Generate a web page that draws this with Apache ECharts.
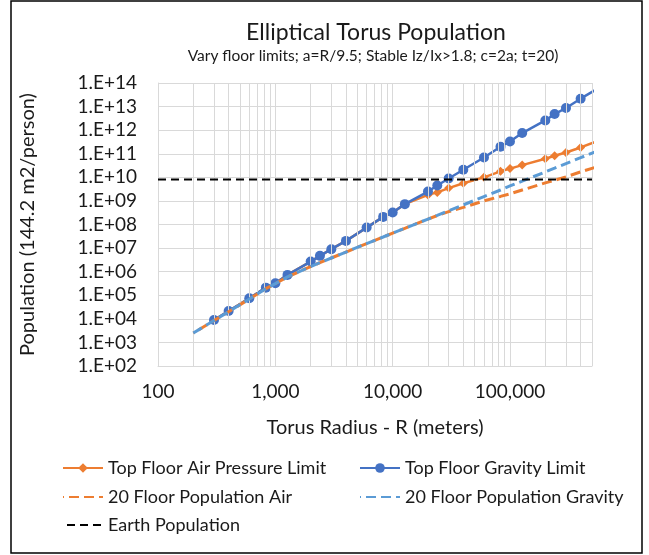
<!DOCTYPE html>
<html>
<head>
<meta charset="utf-8">
<script src="https://cdn.jsdelivr.net/npm/echarts@6/dist/echarts.min.js"></script>
<style>
  html, body { margin: 0; padding: 0; background: #ffffff; }
  #chart { width: 649px; height: 555px; }
</style>
</head>
<body>
<div id="chart"></div>
<script>
// Torus radius R (m) for the top-floor limit series
const radiusTop = [300, 400, 600, 830, 1000, 1270, 2000, 2400, 3000, 4000, 6000, 8300, 10000, 12700,
  20000, 24000, 30000, 40000, 60000, 83000, 100000, 127000, 200000, 240000, 300000, 400000, 600000];
// Population when the top floor is set by the air pressure limit
const topFloorAir = [8.9e3, 2.16e4, 7.5e4, 2.1e5, 3.2e5, 7.3e5, 2.68e6, 4.68e6, 9.0e6, 2.02e7, 7.4e7, 2.1e8, 3.2e8, 7.3e8,
  1.8e9, 2.3e9, 3.5e9, 5.6e9, 1.0e10, 1.8e10, 2.35e10, 3.3e10, 6.1e10, 8.2e10, 1.13e11, 1.85e11, 4.0e11];
// Population when the top floor is set by the gravity limit
const topFloorGravity = [8.9e3, 2.16e4, 7.5e4, 2.1e5, 3.2e5, 7.3e5, 2.68e6, 4.68e6, 9.0e6, 2.02e7, 7.4e7, 2.1e8, 3.2e8, 7.3e8,
  2.5e9, 4.5e9, 8.9e9, 2.09e10, 6.95e10, 1.98e11, 3.3e11, 7.55e11, 2.59e12, 4.83e12, 8.7e12, 2.16e13, 7.2e13];

// Torus radius R (m) for the 20-floor series
const radius20 = [200, 300, 400, 600, 830, 1000, 1270, 2000, 2400, 3000, 4000, 6000, 8300, 10000, 12700,
  20000, 24000, 30000, 40000, 60000, 83000, 100000, 127000, 200000, 240000, 300000, 400000, 600000];
const floor20Air = [2.5e3, 8.5e3, 2.0e4, 6.9e4, 1.9e5, 3.1e5, 6.0e5, 1.65e6, 2.4e6, 3.8e6, 6.8e6, 1.55e7, 2.95e7, 4.3e7, 6.9e7,
  1.7e8, 2.4e8, 3.5e8, 5.3e8, 1.0e9, 1.55e9, 2.0e9, 2.9e9, 5.8e9, 7.5e9, 1.05e10, 1.7e10, 3.2e10];
const floor20Gravity = [2.5e3, 8.5e3, 2.0e4, 6.9e4, 1.9e5, 3.1e5, 6.0e5, 1.65e6, 2.4e6, 3.8e6, 6.8e6, 1.55e7, 2.95e7, 4.3e7, 6.9e7,
  1.7e8, 2.45e8, 3.85e8, 6.8e8, 1.53e9, 2.9e9, 4.3e9, 6.9e9, 1.7e10, 2.45e10, 3.85e10, 6.8e10, 1.53e11];

// Earth population reference line
const earthRadius = [100, 500000];
const earthPopulation = [8e9, 8e9];

// Axis ranges and the minor radius grid (2..9 of each decade)
const radiusMin = 100, radiusMax = 500000;
const popMin = 1e2, popMax = 1e14;
const radiusMinorGrid = [200, 300, 400, 500, 600, 700, 800, 900,
  2000, 3000, 4000, 5000, 6000, 7000, 8000, 9000,
  20000, 30000, 40000, 50000, 60000, 70000, 80000, 90000,
  200000, 300000, 400000, 500000];

const FONT = 'Lato';
const TEXT = '#1a1a1a';
const GRID = '#d9d9d9';

const pairs = (xs, ys) => xs.map((x, i) => [x, ys[i]]);

const chart = echarts.init(document.getElementById('chart'), null, { renderer: 'canvas' });

const legendBase = {
  orient: 'horizontal',
  itemWidth: 40,
  itemHeight: 12,
  itemGap: 0,
  padding: 0,
  selectedMode: false,
  textStyle: { fontFamily: FONT, fontSize: 18, color: TEXT }
};
// dashed-only series: show just the line sample, no marker
const noMarker = { itemStyle: { opacity: 0 } };

chart.setOption({
  animation: false,
  backgroundColor: '#ffffff',
  textStyle: { fontFamily: FONT },
  title: [
    {
      text: 'Elliptical Torus Population',
      left: 371, top: 16, textAlign: 'center',
      textStyle: { fontFamily: FONT, fontSize: 23, fontWeight: 'normal', color: TEXT }
    },
    {
      text: 'Vary floor limits; a=R/9.5; Stable Iz/Ix>1.8; c=2a; t=20)',
      left: 368, top: 43, textAlign: 'center',
      textStyle: { fontFamily: FONT, fontSize: 15.5, fontWeight: 'normal', color: TEXT }
    }
  ],
  legend: [
    Object.assign({}, legendBase, { data: ['Top Floor Air Pressure Limit'], left: 62, top: 459 }),
    Object.assign({}, legendBase, { data: ['Top Floor Gravity Limit'], left: 359, top: 459 }),
    Object.assign({}, legendBase, noMarker, { data: ['20 Floor Population Air'], left: 62, top: 488 }),
    Object.assign({}, legendBase, noMarker, { data: ['20 Floor Population Gravity'], left: 359, top: 488 }),
    Object.assign({}, legendBase, noMarker, { data: ['Earth Population'], left: 62, top: 516 })
  ],
  grid: { left: 158, right: 57, top: 83, bottom: 189, containLabel: false },
  xAxis: {
    type: 'log', logBase: 10, min: radiusMin, max: radiusMax,
    name: 'Torus Radius - R (meters)', nameLocation: 'middle', nameGap: 52,
    nameTextStyle: { fontFamily: FONT, fontSize: 20, color: TEXT },
    axisLine: { show: true, lineStyle: { color: GRID, width: 1 } },
    axisTick: { show: false },
    splitLine: { show: true, lineStyle: { color: GRID, width: 1 } },
    axisLabel: {
      fontFamily: FONT, fontSize: 19, color: TEXT, margin: 16,
      showMaxLabel: false,
      formatter: v => {
        const e = Math.log10(v);
        if (Math.abs(e - Math.round(e)) > 1e-6) return '';
        return Math.round(v).toLocaleString('en-US');
      }
    }
  },
  yAxis: {
    type: 'log', logBase: 10, min: popMin, max: popMax, interval: 1,
    name: 'Population (144.2 m2/person)', nameLocation: 'middle', nameGap: 120, nameRotate: 90,
    nameTextStyle: { fontFamily: FONT, fontSize: 20, color: TEXT },
    axisLine: { show: true, lineStyle: { color: GRID, width: 1 } },
    axisTick: { show: false },
    splitLine: { show: true, lineStyle: { color: GRID, width: 1 } },
    axisLabel: {
      fontFamily: FONT, fontSize: 19, color: TEXT, margin: 21,
      formatter: v => '1.E+' + String(Math.round(Math.log10(v))).padStart(2, '0')
    }
  },
  series: [
    {
      // minor vertical gridlines of the log radius axis
      type: 'line', data: [], silent: true, z: 1,
      markLine: {
        silent: true, symbol: ['none', 'none'], animation: false,
        label: { show: false },
        lineStyle: { color: GRID, width: 1, type: 'solid' },
        emphasis: { disabled: true },
        data: radiusMinorGrid.map(r => ({ xAxis: r }))
      }
    },
    {
      name: 'Top Floor Air Pressure Limit', type: 'line', z: 3,
      data: pairs(radiusTop, topFloorAir),
      color: '#ED7D31',
      lineStyle: { width: 2.5, color: '#ED7D31' },
      symbol: 'diamond', symbolSize: 9,
      itemStyle: { color: '#ED7D31' }
    },
    {
      name: 'Top Floor Gravity Limit', type: 'line', z: 4,
      data: pairs(radiusTop, topFloorGravity),
      color: '#4472C4',
      lineStyle: { width: 2.5, color: '#4472C4' },
      symbol: 'circle', symbolSize: 10,
      itemStyle: { color: '#4472C4' }
    },
    {
      name: '20 Floor Population Air', type: 'line', z: 5,
      data: pairs(radius20, floor20Air),
      color: '#ED7D31',
      lineStyle: { width: 3, color: '#ED7D31', type: [10, 5], dashOffset: 9 },
      symbol: 'none', showSymbol: false
    },
    {
      name: '20 Floor Population Gravity', type: 'line', z: 6,
      data: pairs(radius20, floor20Gravity),
      color: '#5B9BD5',
      lineStyle: { width: 3, color: '#5B9BD5', type: [10, 5] },
      symbol: 'none', showSymbol: false
    },
    {
      name: 'Earth Population', type: 'line', z: 7,
      data: pairs(earthRadius, earthPopulation),
      color: '#000000',
      lineStyle: { width: 2, color: '#000000', type: [8, 5] },
      symbol: 'none', showSymbol: false
    }
  ],
  graphic: [
    {
      type: 'rect', silent: true, z: -1,
      shape: { x: 11, y: 1, width: 631, height: 552 },
      style: { fill: null, stroke: '#000000', lineWidth: 1.5 }
    }
  ]
});
</script>
</body>
</html>
